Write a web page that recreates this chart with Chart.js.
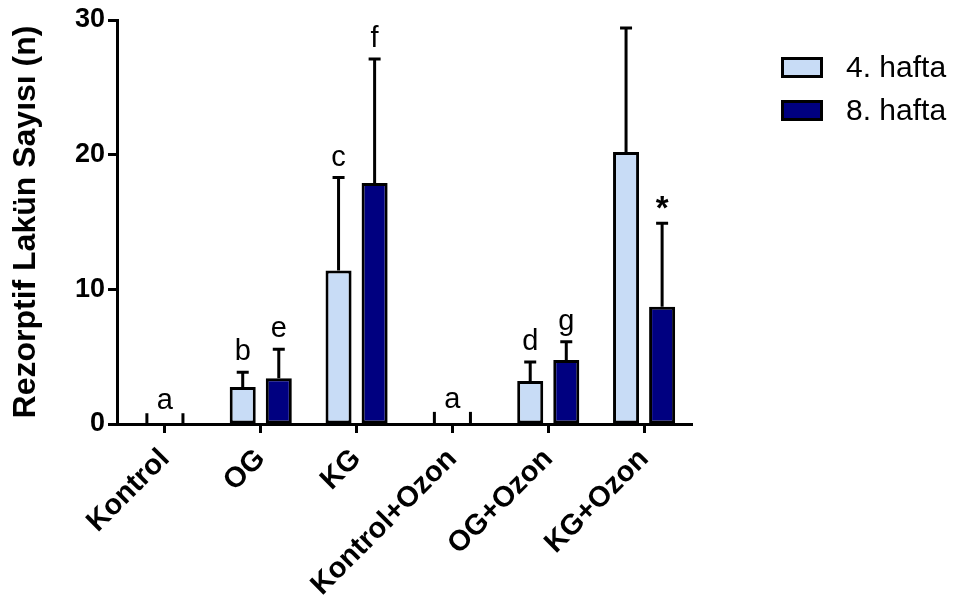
<!DOCTYPE html>
<html>
<head>
<meta charset="utf-8">
<script src="https://cdn.jsdelivr.net/npm/chart.js@4.4.0/dist/chart.umd.min.js"></script>
<style>
    html, body { margin: 0; padding: 0; background: #fff; }
    #kutu { width: 954px; height: 598px; }
</style>
</head>
<body>
<div id="kutu"><canvas id="myChart" width="954" height="598"></canvas></div>
<script>
// Veriler
const gruplar = ['Kontrol', 'OG', 'KG', 'Kontrol+Ozon', 'OG+Ozon', 'KG+Ozon'];
const hafta4 = [0, 2.75, 11.4, 0, 3.2, 20.2];
const hafta8 = [0, 3.4, 17.9, 0, 4.75, 8.7];
const hata4 = [0.8, 1.1, 6.9, 0.9, 1.4, 9.2];   // standart sapma
const hata8 = [0.8, 2.15, 9.2, 0.9, 1.35, 6.2];
const harf4 = ['', 'b', 'c', '', 'd', ''];
const harf8 = ['', 'e', 'f', '', 'g', '*'];
const harfGrup = ['a', '', '', 'a', '', ''];
const yMin = 0, yMax = 30, yAdim = 10;

const yazi = '"Liberation Sans", Arial, Helvetica, sans-serif';

// Hata çubukları ve harfler
const hataCubugu = {
    id: 'hataCubugu',
    afterDatasetsDraw(chart) {
        const ctx = chart.ctx;
        const y = chart.scales.y;
        const ustler = [[], []];
        ctx.save();
        ctx.strokeStyle = '#000';
        ctx.lineWidth = 3;
        [hata4, hata8].forEach((hata, d) => {
            const meta = chart.getDatasetMeta(d);
            meta.data.forEach((bar, i) => {
                const deger = chart.data.datasets[d].data[i];
                const alt = y.getPixelForValue(deger);
                const ust = y.getPixelForValue(deger + hata[i]);
                ustler[d][i] = { x: bar.x, y: ust };
                ctx.beginPath();
                ctx.moveTo(bar.x, alt);
                ctx.lineTo(bar.x, ust);
                if (deger > 0) {
                    ctx.moveTo(bar.x - 6, ust);
                    ctx.lineTo(bar.x + 6, ust);
                }
                ctx.stroke();
            });
        });
        ctx.fillStyle = '#000';
        ctx.textAlign = 'center';
        ctx.textBaseline = 'alphabetic';
        [harf4, harf8].forEach((harfler, d) => {
            harfler.forEach((h, i) => {
                if (!h) return;
                const p = ustler[d][i];
                if (h === '*') {
                    ctx.font = 'bold 33px ' + yazi;
                    ctx.fillText(h, p.x, p.y - 4);
                } else {
                    ctx.font = '29px ' + yazi;
                    ctx.fillText(h, p.x, p.y - 12);
                }
            });
        });
        harfGrup.forEach((h, i) => {
            if (!h) return;
            const a = ustler[0][i], b = ustler[1][i];
            ctx.font = '29px ' + yazi;
            ctx.fillText(h, (a.x + b.x) / 2, Math.min(a.y, b.y) - 4);
        });
        ctx.restore();
    }
};

// Sağdaki lejant
const sagLejant = {
    id: 'sagLejant',
    afterDraw(chart) {
        const ctx = chart.ctx;
        ctx.save();
        chart.data.datasets.forEach((ds, i) => {
            const x = 782.5, y = 58.5 + i * 43;
            ctx.fillStyle = ds.backgroundColor;
            ctx.fillRect(x, y, 39, 18);
            ctx.strokeStyle = '#000';
            ctx.lineWidth = 3;
            ctx.strokeRect(x, y, 39, 18);
            ctx.fillStyle = '#000';
            ctx.font = '30px ' + yazi;
            ctx.textAlign = 'left';
            ctx.textBaseline = 'middle';
            ctx.fillText(ds.label, 846, y + 10);
        });
        ctx.restore();
    }
};

const ctx = document.getElementById('myChart');
const config = {
    type: 'bar',
    data: {
        labels: gruplar,
        datasets: [{
            label: '4. hafta',
            data: hafta4,
            backgroundColor: '#c8dcf6',
            borderColor: '#000',
            borderWidth: 3,
            borderSkipped: false
        }, {
            label: '8. hafta',
            data: hafta8,
            backgroundColor: '#000080',
            borderColor: '#000',
            borderWidth: 3,
            borderSkipped: false
        }]
    },
    options: {
        responsive: false,
        animation: false,
        layout: { padding: { top: 20, right: 262, bottom: 0, left: 0 } },
        datasets: { bar: { categoryPercentage: 0.7526, barPercentage: 0.722 } },
        plugins: {
            legend: { display: false },
            tooltip: { enabled: false }
        },
        scales: {
            x: {
                grid: { drawOnChartArea: false, offset: false, tickLength: 9, tickWidth: 3, color: '#000' },
                border: { color: '#000', width: 3 },
                ticks: {
                    color: '#000',
                    font: { family: yazi, weight: 'bold', size: 29 },
                    maxRotation: 45,
                    minRotation: 45,
                    padding: 9
                },
                afterFit: s => { s.height = 174; }
            },
            y: {
                min: yMin,
                max: yMax,
                grid: { drawOnChartArea: false, tickLength: 9, tickWidth: 3, color: '#000' },
                border: { color: '#000', width: 3 },
                ticks: {
                    stepSize: yAdim,
                    color: '#000',
                    font: { family: yazi, weight: 'bold', size: 27 },
                    padding: 3
                },
                title: {
                    display: true,
                    text: 'Rezorptif Lakün Sayısı (n)',
                    color: '#000',
                    font: { family: yazi, weight: 'bold', size: 32 },
                    padding: { top: 7, bottom: 0 }
                },
                afterFit: s => { s.width = 117; }
            }
        }
    },
    plugins: [hataCubugu, sagLejant]
};

const myChart = new Chart(ctx, config);
</script>
</body>
</html>
